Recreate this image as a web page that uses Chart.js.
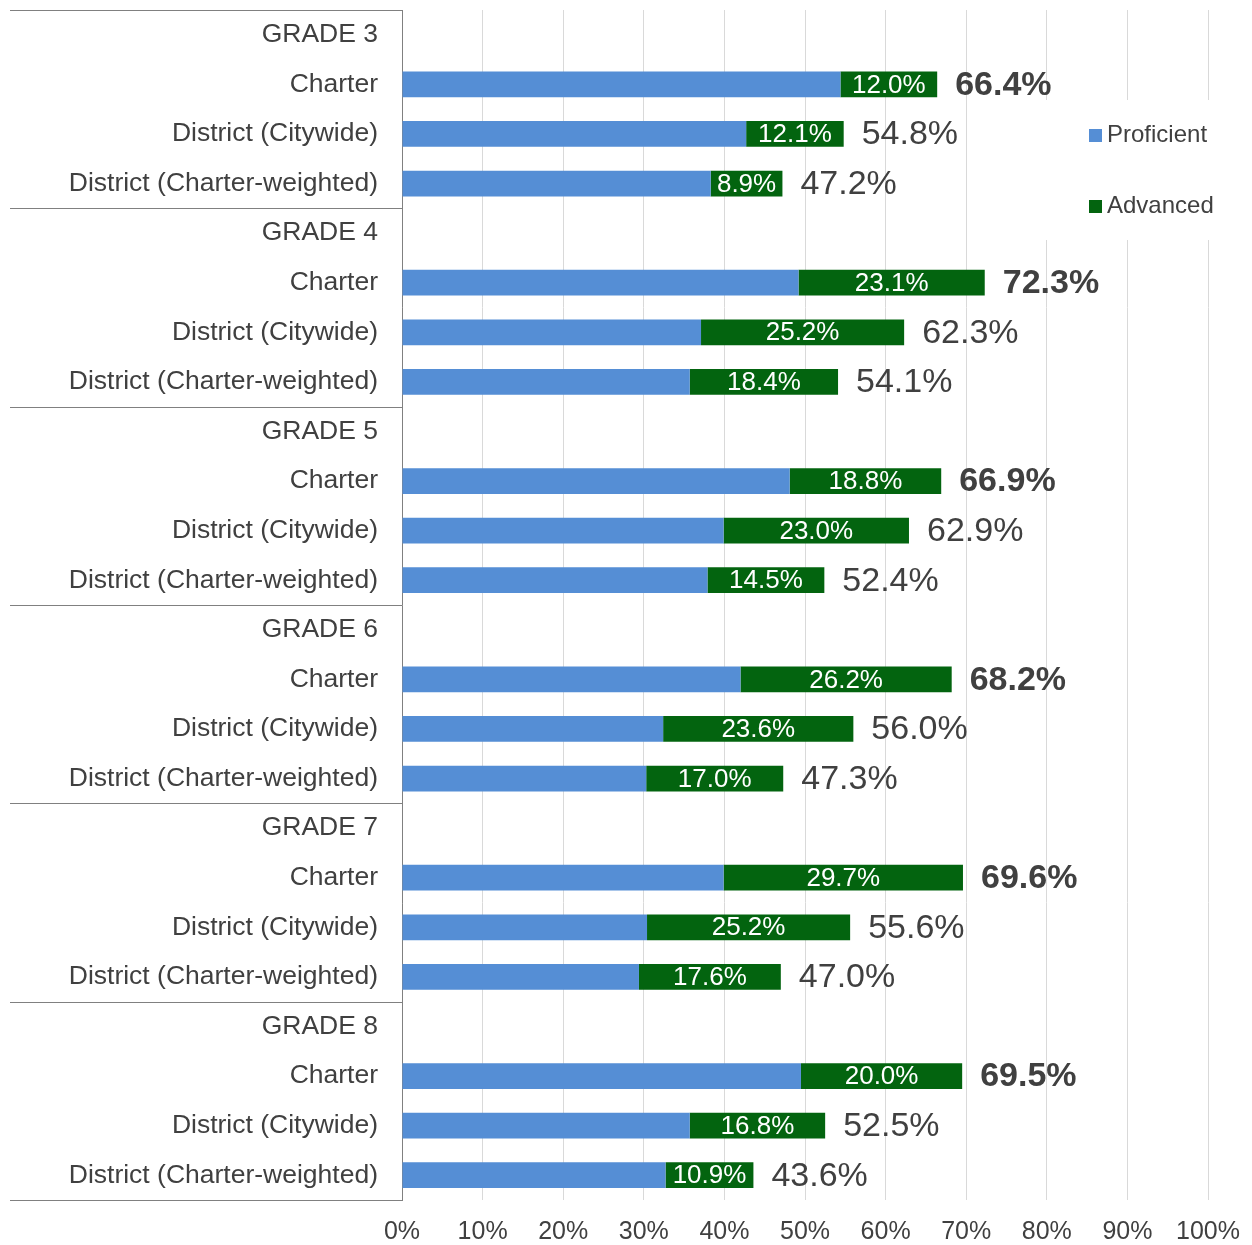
<!DOCTYPE html>
<html>
<head>
<meta charset="utf-8">
<script src="https://cdn.jsdelivr.net/npm/chart.js@4.4.0/dist/chart.umd.min.js"></script>
<style>
  html, body { margin: 0; padding: 0; background: #fff; }
</style>
</head>
<body>
<canvas id="myChart" width="1252" height="1245"></canvas>
<script>
const grades = ['GRADE 3', 'GRADE 4', 'GRADE 5', 'GRADE 6', 'GRADE 7', 'GRADE 8'];
const groups = ['Charter', 'District (Citywide)', 'District (Charter-weighted)'];
// three values per grade: Charter, Citywide, Charter-weighted
const proficient = [54.4, 42.7, 38.3, 49.2, 37.1, 35.7, 48.1, 39.9, 37.9, 42.0, 32.4, 30.3, 39.9, 30.4, 29.4, 49.5, 35.7, 32.7];
const advanced = [12.0, 12.1, 8.9, 23.1, 25.2, 18.4, 18.8, 23.0, 14.5, 26.2, 23.6, 17.0, 29.7, 25.2, 17.6, 20.0, 16.8, 10.9];
const seriesNames = ['Proficient', 'Advanced'];
const colors = ['#558ed5', '#03640f'];

const textColor = '#404040';
const font = '"Liberation Sans", Arial, sans-serif';

// header row per grade, then the three groups
const labels = [];
const profData = [];
const advData = [];
grades.forEach((g, gi) => {
    labels.push(g);
    profData.push(null);
    advData.push(null);
    groups.forEach((name, k) => {
        labels.push(name);
        profData.push(proficient[gi * 3 + k]);
        advData.push(advanced[gi * 3 + k]);
    });
});

const extras = {
    id: 'extras',
    afterDatasetsDraw(chart) {
        const ctx = chart.ctx;
        const advMeta = chart.getDatasetMeta(1);
        ctx.save();
        advMeta.data.forEach((bar, i) => {
            if (advData[i] == null) return;
            // value inside the green segment
            ctx.fillStyle = '#ffffff';
            ctx.font = '26px ' + font;
            ctx.textAlign = 'center';
            ctx.textBaseline = 'middle';
            ctx.fillText(advData[i].toFixed(1) + '%', (bar.x + bar.base) / 2, bar.y + 1);
            // total at the end of the bar
            const total = profData[i] + advData[i];
            const isCharter = labels[i] === 'Charter';
            ctx.fillStyle = textColor;
            ctx.font = (isCharter ? 'bold ' : '') + '34px ' + font;
            ctx.textAlign = 'left';
            ctx.fillText(total.toFixed(1) + '%', bar.x + 18, bar.y + 1);
        });
        ctx.restore();
    },
    afterDraw(chart) {
        const ctx = chart.ctx;
        const y = chart.scales.y;
        const area = chart.chartArea;
        const rowH = y.getPixelForValue(1) - y.getPixelForValue(0);
        ctx.save();
        // group separators in the label column
        ctx.strokeStyle = '#808080';
        ctx.lineWidth = 1;
        for (let i = 0; i <= labels.length; i += 4) {
            const py = Math.round(y.getPixelForValue(i) - rowH / 2) + 0.5;
            ctx.beginPath();
            ctx.moveTo(10, py);
            ctx.lineTo(area.left, py);
            ctx.stroke();
        }
        // legend
        ctx.fillStyle = '#ffffff';
        ctx.fillRect(1040, 100, 190, 140);
        ctx.font = '24px ' + font;
        ctx.textAlign = 'left';
        ctx.textBaseline = 'middle';
        seriesNames.forEach((name, k) => {
            const ly = 135 + k * 71;
            ctx.fillStyle = colors[k];
            ctx.fillRect(1089, ly - 6, 13, 13);
            ctx.fillStyle = textColor;
            ctx.fillText(name, 1107, ly);
        });
        ctx.restore();
    }
};

new Chart(document.getElementById('myChart'), {
    type: 'bar',
    data: {
        labels: labels,
        datasets: [{
            label: seriesNames[0],
            data: profData,
            backgroundColor: colors[0],
            categoryPercentage: 1,
            barPercentage: 0.52
        }, {
            label: seriesNames[1],
            data: advData,
            backgroundColor: colors[1],
            categoryPercentage: 1,
            barPercentage: 0.52
        }]
    },
    options: {
        indexAxis: 'y',
        responsive: false,
        animation: false,
        layout: { padding: { left: 10, top: 10, right: 44, bottom: 0 } },
        plugins: {
            legend: { display: false },
            tooltip: { enabled: false }
        },
        scales: {
            x: {
                stacked: true,
                min: 0,
                max: 100,
                ticks: {
                    stepSize: 10,
                    callback: v => v + '%',
                    color: textColor,
                    font: { family: font, size: 25 },
                    padding: 17,
                    maxRotation: 0
                },
                grid: { color: '#d9d9d9', drawTicks: false },
                border: { display: false },
                afterFit: s => {
                    s.height = 45;
                    s.paddingLeft = 0;
                    s.paddingRight = 0;
                }
            },
            y: {
                stacked: true,
                ticks: {
                    color: textColor,
                    font: { family: font, size: 26.5 },
                    padding: 24,
                    autoSkip: false
                },
                grid: { display: false, drawTicks: false },
                border: { display: true, color: '#808080', width: 1 },
                afterFit: s => {
                    s.width = 392;
                    s.paddingTop = 0;
                    s.paddingBottom = 0;
                }
            }
        }
    },
    plugins: [extras]
});
</script>
</body>
</html>
